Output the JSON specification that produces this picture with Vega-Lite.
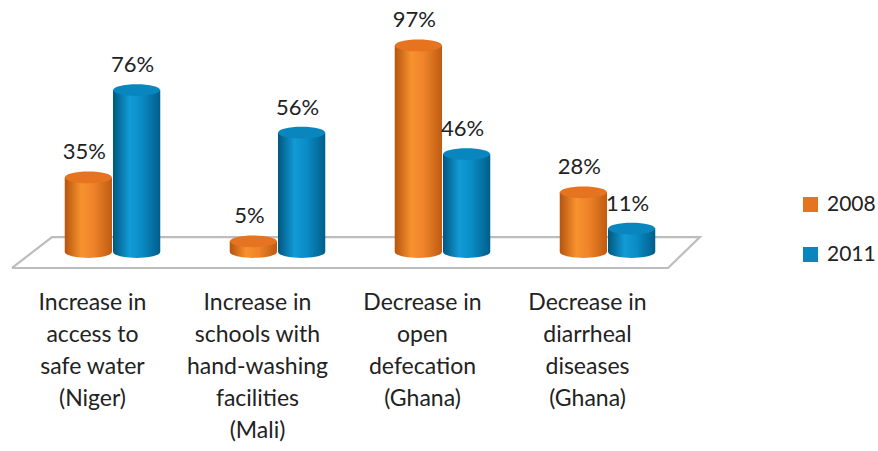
{
  "$schema": "https://vega.github.io/schema/vega-lite/v6.json",
  "width": 660,
  "height": 213,
  "autosize": {"type": "none"},
  "padding": {"left": 30, "top": 39, "right": 188, "bottom": 199},
  "background": "white",
  "config": {
    "view": {"stroke": null},
    "font": "Lato",
    "legend": {"padding": 0, "offset": 0}
  },
  "datasets": {
    "results": [
      {"category": "Increase in\naccess to\nsafe water\n(Niger)", "year": "2008", "value": 35},
      {"category": "Increase in\naccess to\nsafe water\n(Niger)", "year": "2011", "value": 76},
      {"category": "Increase  in\nschools with\nhand-washing\nfacilities\n(Mali)", "year": "2008", "value": 5},
      {"category": "Increase  in\nschools with\nhand-washing\nfacilities\n(Mali)", "year": "2011", "value": 56},
      {"category": "Decrease in\nopen\ndefecation\n(Ghana)", "year": "2008", "value": 97},
      {"category": "Decrease in\nopen\ndefecation\n(Ghana)", "year": "2011", "value": 46},
      {"category": "Decrease in\ndiarrheal\ndiseases\n(Ghana)", "year": "2008", "value": 28},
      {"category": "Decrease in\ndiarrheal\ndiseases\n(Ghana)", "year": "2011", "value": 11}
    ],
    "floor": [
      {"k": 0, "fx": -0.109, "fy": -7.5},
      {"k": 1, "fx": 3.867, "fy": -7.5},
      {"k": 2, "fx": 4.06, "fy": 7.0},
      {"k": 3, "fx": 0.133, "fy": 7.0},
      {"k": 4, "fx": -0.109, "fy": -7.5}
    ]
  },
  "resolve": {"scale": {"x": "independent"}},
  "layer": [
    {
      "data": {"name": "floor"},
      "mark": {"type": "line", "stroke": "#BDBDBD", "strokeWidth": 2.2},
      "encoding": {
        "x": {"field": "fx", "type": "quantitative", "scale": {"domain": [0, 4], "nice": false, "zero": false}, "axis": null},
        "y": {"field": "fy", "type": "quantitative", "scale": {"domain": [0, 100], "nice": false}, "axis": null},
        "order": {"field": "k"}
      }
    },
    {
      "data": {"name": "results"},
      "transform": [{"calculate": "datum.value + '%'", "as": "pct"}],
      "encoding": {
        "x": {
          "field": "category",
          "type": "nominal",
          "sort": null,
          "scale": {"paddingInner": 0, "paddingOuter": 0},
          "axis": {
            "title": null,
            "domain": false,
            "ticks": false,
            "tickSize": 0,
            "labelAngle": 0,
            "labelExpr": "split(datum.label, '\\n')",
            "labelFontSize": 23,
            "labelLineHeight": 32,
            "labelColor": "#222222",
            "labelBaseline": "top",
            "labelPadding": 39,
            "labelOffset": -20,
            "labelLimit": 0
          }
        },
        "xOffset": {"field": "year", "type": "nominal", "scale": {"paddingOuter": 0.72, "paddingInner": 0.02}},
        "y": {"field": "value", "type": "quantitative", "scale": {"domain": [0, 100], "nice": false}, "axis": null}
      },
      "layer": [
        {
          "mark": {"type": "point", "filled": true, "size": 2209, "strokeWidth": 0, "opacity": 1,
                   "shape": "M-1,0A1,0.25,0,1,0,1,0A1,0.25,0,1,0,-1,0Z"},
          "encoding": {
            "y": {"datum": 0, "type": "quantitative"},
            "color": {
              "condition": {"test": "datum.year == '2008'", "value": {"gradient": "linear", "x1": 0, "x2": 1, "y1": 0, "y2": 0,
                "stops": [{"offset": 0, "color": "#B5540E"}, {"offset": 0.35, "color": "#F7922E"}, {"offset": 0.6, "color": "#F0842A"}, {"offset": 1, "color": "#BF5C12"}]}},
              "value": {"gradient": "linear", "x1": 0, "x2": 1, "y1": 0, "y2": 0,
                "stops": [{"offset": 0, "color": "#00577F"}, {"offset": 0.35, "color": "#129BD6"}, {"offset": 0.6, "color": "#0A8CC6"}, {"offset": 1, "color": "#005E8A"}]}
            }
          }
        },
        {
          "mark": {"type": "bar", "width": {"band": 1}},
          "encoding": {
            "y2": {"datum": 0},
            "color": {
              "condition": {"test": "datum.year == '2008'", "value": {"gradient": "linear", "x1": 0, "x2": 1, "y1": 0, "y2": 0,
                "stops": [{"offset": 0, "color": "#B5540E"}, {"offset": 0.35, "color": "#F7922E"}, {"offset": 0.6, "color": "#F0842A"}, {"offset": 1, "color": "#BF5C12"}]}},
              "value": {"gradient": "linear", "x1": 0, "x2": 1, "y1": 0, "y2": 0,
                "stops": [{"offset": 0, "color": "#00577F"}, {"offset": 0.35, "color": "#129BD6"}, {"offset": 0.6, "color": "#0A8CC6"}, {"offset": 1, "color": "#005E8A"}]}
            }
          }
        },
        {
          "mark": {"type": "point", "filled": true, "size": 2209, "opacity": 1, "strokeWidth": 0,
                   "shape": "M-1,0A1,0.25,0,1,0,1,0A1,0.25,0,1,0,-1,0Z"},
          "encoding": {
            "color": {
              "field": "year",
              "type": "nominal",
              "scale": {"domain": ["2008", "2011"], "range": ["#E5731F", "#0A86BF"]},
              "legend": {
                "title": null,
                "orient": "none",
                "legendX": 770,
                "legendY": 155,
                "symbolType": "square",
                "symbolSize": 225,
                "symbolStrokeWidth": 0,
                "labelFontSize": 21,
                "labelColor": "#222222",
                "labelOffset": 6,
                "rowPadding": 28
              }
            }
          }
        },
        {
          "mark": {"type": "text", "fontSize": 22, "color": "#222222", "baseline": "middle", "dy": -25, "dx": -4},
          "encoding": {"text": {"field": "pct"}}
        }
      ]
    }
  ]
}
